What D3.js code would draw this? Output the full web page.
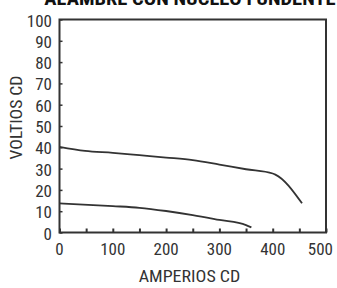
<!DOCTYPE html>
<html><head><meta charset="utf-8">
<script src="https://cdn.jsdelivr.net/npm/d3@7"></script>
<style>body{margin:0;background:#fff}svg{display:block}</style>
</head><body>
<svg id="c" width="337" height="288"></svg>
<script>
const title = "ALAMBRE CON NÚCLEO FUNDENTE";
const xTitle = "AMPERIOS CD";
const yTitle = "VOLTIOS CD";
const xTickLabels = [0,100,200,300,400,500];
const yTickLabels = [0,10,20,30,40,50,60,70,80,90,100];
const upperAmps  = [0, 48, 100, 150, 200, 250, 300, 350, 400, 405, 455];
const upperVolts = [40.2, 38.3, 37.4, 36.3, 35.2, 34.0, 31.9, 29.7, 27.7, 27.2, 13.7];
const lowerAmps  = [0, 100, 150, 200, 250, 300, 350, 360];
const lowerVolts = [13.7, 12.4, 11.6, 10.1, 8.2, 5.9, 3.5, 2.4];

const font = "'Roboto Condensed','Liberation Sans Narrow','Arial Narrow',sans-serif";
const svg = d3.select("#c");
const L=59.5, R=326, T=19.5, B=232.5;
const x = d3.scaleLinear().domain([0,500]).range([L,R]);
const y = d3.scaleLinear().domain([0,100]).range([B,T]);
const ink="#333";

function txt(px, py, s, anchor, size, sx, extra){
  return svg.append("text")
    .attr("transform", `translate(${px},${py}) ${extra||""} scale(${sx},1)`)
    .attr("text-anchor", anchor).attr("font-family", font)
    .attr("font-size", size).attr("fill", ink).text(s);
}

// frame
svg.append("rect").attr("x",L).attr("y",T).attr("width",R-L).attr("height",B-T)
  .attr("fill","none").attr("stroke",ink).attr("stroke-width",2);

// x axis ticks (inward)
const xa = svg.append("g").attr("transform",`translate(0,${B})`)
  .call(d3.axisBottom(x).tickValues(d3.range(0,501,50)).tickSize(-4).tickFormat(""));
xa.select(".domain").remove();
xa.selectAll("line").attr("stroke",ink).attr("stroke-width",2);
xTickLabels.forEach(d=>{
  const last = d===500;
  txt(last ? 333 : x(d), 255, d, last ? "end" : "middle", 16.5, 1.03);
});

// y axis ticks (inward)
const ya = svg.append("g").attr("transform",`translate(${L},0)`)
  .call(d3.axisLeft(y).tickValues(d3.range(0,101,10)).tickSize(-3).tickFormat(""));
ya.select(".domain").remove();
ya.selectAll("line").attr("stroke",ink).attr("stroke-width",1.5);
yTickLabels.forEach(d=>{
  txt(52, y(d)+7, d, "end", 16.5, 1.03);
});

// lines
const line = d3.line().x(d=>x(d[0])).y(d=>y(d[1])).curve(d3.curveMonotoneX);
[[upperAmps,upperVolts],[lowerAmps,lowerVolts]].forEach(([a,v])=>{
  svg.append("path").datum(a.map((d,i)=>[d,v[i]])).attr("d",line)
    .attr("fill","none").attr("stroke",ink).attr("stroke-width",1.8);
});

// titles
txt(189.5, 282, xTitle, "middle", 16.5, 1.09);
txt(22, 117.5, yTitle, "middle", 16.5, 1.07, "rotate(-90)");
txt(190, 5, title, "middle", 18.5, 1.11).attr("font-weight","bold").attr("fill","#111");
</script>
</body></html>
